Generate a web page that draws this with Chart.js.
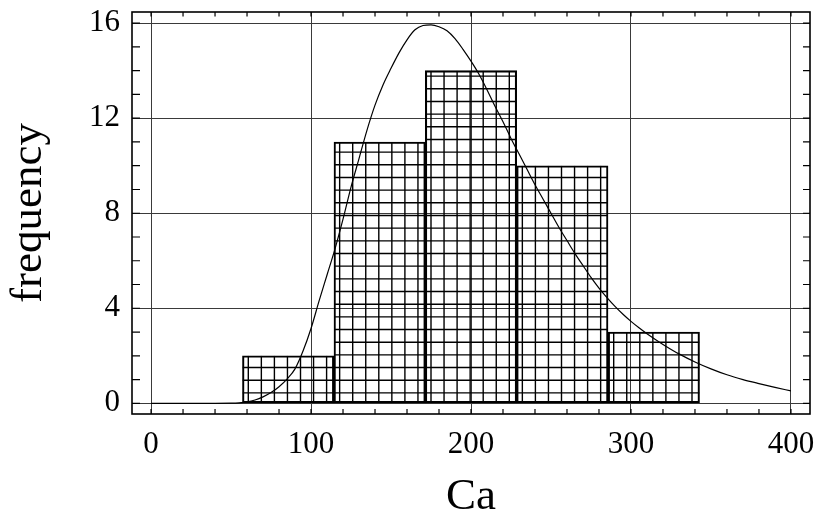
<!DOCTYPE html>
<html>
<head>
<meta charset="utf-8">
<script src="https://cdn.jsdelivr.net/npm/chart.js@4.4.1/dist/chart.umd.min.js"></script>
<style>
html,body{margin:0;padding:0;background:#ffffff;}
canvas{display:block;}
</style>
</head>
<body>
<canvas id="chart" width="820" height="521"></canvas>
<script>
// ---- data ----
const binCenters = [85.7, 142.9, 200.0, 257.1, 314.3];
const binCounts  = [2, 11, 14, 10, 3];

const curveX = [0, 40, 50, 55, 60, 65, 70, 75, 80, 85, 90, 95, 100, 105, 110, 115, 120, 125, 130, 135,
                140, 145, 150, 155, 160, 165, 170, 175, 180, 185, 190, 195, 200, 205, 210, 215, 220, 225,
                230, 235, 240, 245, 250, 255, 260, 265, 270, 275, 280, 285, 290, 295, 300, 305, 310, 315,
                320, 330, 340, 350, 360, 370, 380, 390, 400];
const curveY = [0, 0, 0.005, 0.02, 0.06, 0.14, 0.27, 0.45, 0.7, 1.02, 1.45, 2.2, 3.15, 4.3, 5.4, 6.5, 7.75, 9.1, 10.3, 11.5,
                12.55, 13.4, 14.1, 14.75, 15.3, 15.72, 15.9, 15.93, 15.85, 15.68, 15.35, 14.9, 14.4, 13.85, 13.2, 12.5, 11.85, 11.15,
                10.5, 9.85, 9.2, 8.6, 8.0, 7.4, 6.85, 6.3, 5.8, 5.3, 4.85, 4.45, 4.08, 3.75, 3.45, 3.18, 2.93, 2.7,
                2.48, 2.08, 1.74, 1.45, 1.2, 1.0, 0.83, 0.67, 0.52];

const xTickValues = [0, 100, 200, 300, 400];
const yTickValues = [0, 4, 8, 12, 16];
const xMinorStep = 20;
const yMinorStep = 1;
const xLabel = 'Ca';
const yLabel = 'frequency';

// ---- styling ----
const FONT = "'Liberation Serif', 'Times New Roman', serif";

const hatchPlugin = {
  id: 'hatch',
  afterDatasetDraw(chart, args) {
    if (args.meta.type !== 'bar') return;
    const ctx = chart.ctx;
    const DX = 13.05, X0 = 0.35, DY = 12.67, Y0 = 0.1;
    ctx.save();
    ctx.strokeStyle = '#000';
    ctx.lineWidth = 1.4;
    args.meta.data.forEach(bar => {
      const p = bar.getProps(['x', 'y', 'base', 'width'], true);
      const l = p.x - p.width / 2, r = p.x + p.width / 2;
      const t = Math.min(p.y, p.base), b = Math.max(p.y, p.base);
      ctx.save();
      ctx.beginPath();
      ctx.rect(l, t, r - l, b - t);
      ctx.clip();
      ctx.beginPath();
      for (let px = Math.ceil((l - X0) / DX) * DX + X0; px < r; px += DX) {
        ctx.moveTo(px, t); ctx.lineTo(px, b);
      }
      for (let py = Math.ceil((t - Y0) / DY) * DY + Y0; py < b; py += DY) {
        ctx.moveTo(l, py); ctx.lineTo(r, py);
      }
      ctx.stroke();
      ctx.restore();
    });
    ctx.restore();
  }
};

const framePlugin = {
  id: 'frame',
  afterDatasetsDraw(chart) {
    const ctx = chart.ctx;
    const {left, right, top, bottom} = chart.chartArea;
    const xs = chart.scales.x, ys = chart.scales.y;
    ctx.save();
    ctx.strokeStyle = '#000';
    ctx.lineWidth = 1.2;
    ctx.beginPath();
    for (let v = xTickValues[0]; v <= xTickValues[xTickValues.length - 1] + 1e-9; v += xMinorStep) {
      const px = xs.getPixelForValue(v);
      ctx.moveTo(px, top); ctx.lineTo(px, top + 4.5);
      ctx.moveTo(px, bottom); ctx.lineTo(px, bottom - 5);
    }
    for (let v = yTickValues[0]; v <= yTickValues[yTickValues.length - 1] + 1e-9; v += yMinorStep) {
      const py = ys.getPixelForValue(v);
      ctx.moveTo(left, py); ctx.lineTo(left + 8, py);
      ctx.moveTo(right, py); ctx.lineTo(right - 7, py);
    }
    ctx.stroke();
    ctx.lineWidth = 1.6;
    ctx.strokeRect(left, top, right - left, bottom - top);
    ctx.restore();
  }
};

new Chart(document.getElementById('chart'), {
  type: 'bar',
  data: {
    datasets: [
      {
        type: 'line',
        order: 0,
        data: curveX.map((x, i) => ({x: x, y: curveY[i]})),
        borderColor: '#000',
        borderWidth: 1.2,
        pointRadius: 0,
        fill: false,
        cubicInterpolationMode: 'monotone'
      },
      {
        type: 'bar',
        order: 1,
        data: binCenters.map((x, i) => ({x: x, y: binCounts[i]})),
        backgroundColor: 'rgba(0,0,0,0)',
        borderColor: '#000',
        borderWidth: 1.4,
        borderSkipped: false,
        barPercentage: 1,
        categoryPercentage: 1
      }
    ]
  },
  options: {
    responsive: false,
    animation: false,
    devicePixelRatio: 1,
    layout: {padding: {top: 12, right: 10, left: 0, bottom: 0}},
    plugins: {legend: {display: false}, tooltip: {enabled: false}},
    scales: {
      x: {
        type: 'linear',
        offset: false,
        min: -11.9,
        max: 411.9,
        afterBuildTicks: s => { s.ticks = xTickValues.map(v => ({value: v})); },
        afterFit: s => { s.height = 107; s.paddingLeft = 0; s.paddingRight = 0; },
        ticks: {
          color: '#000',
          font: {family: FONT, size: 31},
          padding: 12,
          maxRotation: 0,
          autoSkip: false,
          callback: v => String(v)
        },
        grid: {color: '#3a3a3a', lineWidth: 1, drawTicks: false, offset: false},
        border: {display: false},
        title: {
          display: true,
          text: xLabel,
          color: '#000',
          font: {family: FONT, size: 45, lineHeight: 1},
          padding: {top: 0, bottom: 1.5}
        }
      },
      y: {
        type: 'linear',
        min: -0.45,
        max: 16.47,
        afterBuildTicks: s => { s.ticks = yTickValues.map(v => ({value: v})); },
        afterFit: s => { s.width = 132; s.paddingTop = 0; s.paddingBottom = 0; },
        ticks: {
          color: '#000',
          font: {family: FONT, size: 31},
          padding: 12,
          autoSkip: false,
          callback: v => String(v)
        },
        grid: {color: '#3a3a3a', lineWidth: 1, drawTicks: false},
        border: {display: false},
        title: {
          display: true,
          text: yLabel,
          color: '#000',
          font: {family: FONT, size: 45, lineHeight: 1},
          padding: {top: 6.5, bottom: 0}
        }
      }
    }
  },
  plugins: [hatchPlugin, framePlugin]
});
</script>
</body>
</html>
